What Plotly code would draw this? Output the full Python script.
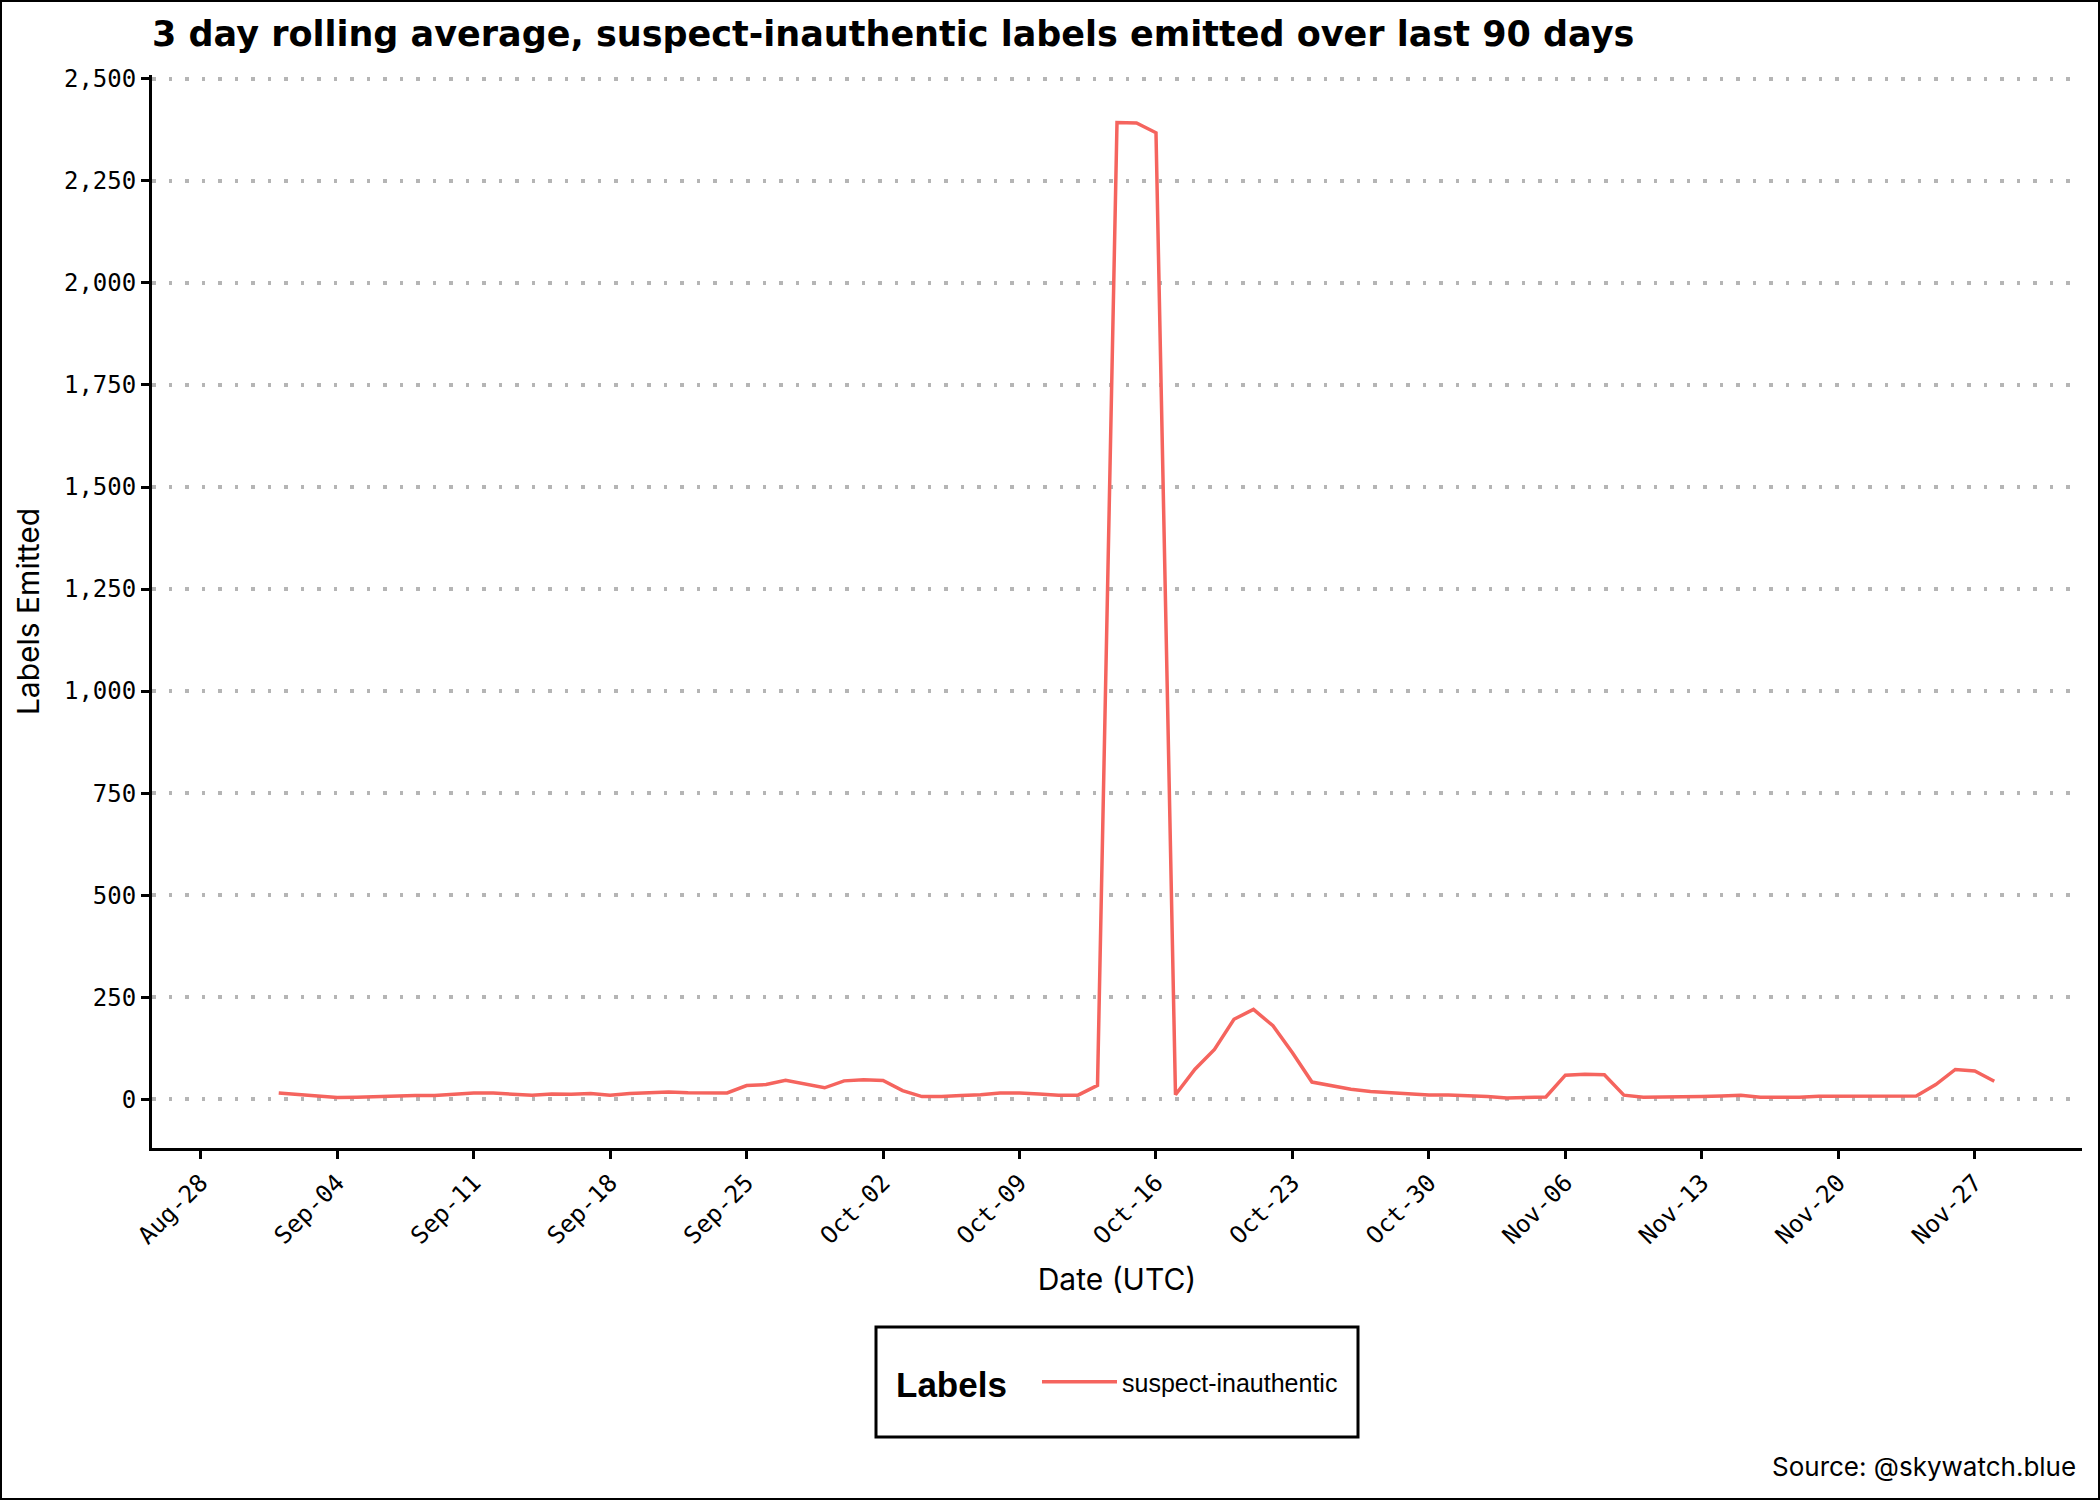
import plotly.graph_objects as go
import pandas as pd

# ---- data ----
start_date = "2024-08-30"
n_days = 91
dates = pd.date_range(start_date, periods=n_days, freq="D")
series_name = "suspect-inauthentic"
values_aug = [None, None]  # Aug 30, Aug 31 (rolling window not yet full)
values_sep = [15.5, 11, 7, 4, 5, 7, 9, 9, 9, 13, 15, 15, 13, 10, 13, 12, 14, 10, 14, 17,
              18, 16, 15.5, 15.5, 33.5, 36, 46.5, 37.5, 28, 45]
values_oct = [48, 46, 21, 6.5, 6.5, 9, 11, 15.5, 15.5, 13, 10, 10, 34, 2393, 2392, 2368,
              11, 73.5, 122, 196, 220, 180, 114, 42, 33, 24.5, 19, 15.5, 13, 10.6, 10.6]
values_nov = [9, 6.5, 3.3, 4, 5.7, 59, 61, 60, 10, 5, 5, 5.7, 6.5, 8, 10, 5, 4, 5, 7.4,
              7.4, 8, 6.5, 7.4, 8, 36, 73, 69, 44]
values = values_aug + values_sep + values_oct + values_nov

y_tickvals = [0, 250, 500, 750, 1000, 1250, 1500, 1750, 2000, 2250, 2500]
x_tick0 = "2024-08-28"

title_text = "3 day rolling average, suspect-inauthentic labels emitted over last 90 days"
caption_text = "Source: @skywatch.blue"
legend_title = "Labels"

# ---- layout geometry ----
W, H = 2100, 1500
ML, MR, MT, MB = 152, 18, 75, 352
PW, PH = W - ML - MR, H - MT - MB


def px_x(p):
    return (p - ML) / PW


def px_y(p):
    return (H - MB - p) / PH


line_color = "#F5645E"

fig = go.Figure()
fig.add_trace(go.Scatter(
    x=dates, y=values, mode="lines", name=series_name,
    line=dict(color=line_color, width=3.5),
    connectgaps=False,
))

tick_font = dict(family="DejaVu Sans Mono", size=24, color="black")
label_font = dict(family="Inter", size=30, color="black")

fig.update_layout(
    width=W, height=H,
    margin=dict(l=ML, r=MR, t=MT, b=MB),
    paper_bgcolor="white", plot_bgcolor="white",
    title=dict(text=f"<b>{title_text}</b>", font=dict(family="DejaVu Sans", size=35, color="black"),
               x=0, xref="paper", xanchor="left", y=1 - 34 / H, yref="container", yanchor="middle"),
    xaxis=dict(
        type="date",
        range=["2024-08-25 12:00", "2024-12-02 12:00"],
        tick0=x_tick0, dtick=7 * 24 * 3600 * 1000, tickformat="%b-%d",
        tickangle=-45, tickfont=tick_font,
        ticks="outside", ticklen=8, tickwidth=2.5, tickcolor="black",
        showline=True, linecolor="black", linewidth=3,
        showgrid=False, zeroline=False,
        title=dict(text="Date (UTC)", font=label_font, standoff=21),
    ),
    yaxis=dict(
        range=[-119.5, 2509.5],
        tickvals=y_tickvals, tickformat=",d", tickfont=tick_font,
        ticks="outside", ticklen=8, tickwidth=2.5, tickcolor="black",
        showline=True, linecolor="black", linewidth=3,
        showgrid=True, gridcolor="#b5b5b5", gridwidth=3.5, griddash="3.5px,13px",
        zeroline=False,
        title=dict(text="Labels Emitted", font=label_font, standoff=16),
    ),
    legend=dict(
        orientation="h", x=px_x(1037), xanchor="left",
        y=px_y(1382), yanchor="middle",
        itemwidth=75,
        font=dict(family="Liberation Sans", size=25, color="black"),
        bgcolor="rgba(0,0,0,0)", borderwidth=0,
    ),
    showlegend=True,
)

# legend frame
fig.add_shape(type="rect", xref="paper", yref="paper",
              x0=px_x(876), x1=px_x(1358), y0=px_y(1437), y1=px_y(1327),
              line=dict(color="black", width=3), fillcolor="rgba(0,0,0,0)", layer="above")
# legend title
fig.add_annotation(text=f"<b>{legend_title}</b>", xref="paper", yref="paper",
                   x=px_x(894), y=px_y(1384), xanchor="left", yanchor="middle",
                   showarrow=False, font=dict(family="Liberation Sans", size=35, color="black"))
# outer border
fig.add_shape(type="rect", xref="paper", yref="paper",
              x0=px_x(1), x1=px_x(W - 1), y0=px_y(H - 1), y1=px_y(1),
              line=dict(color="black", width=2), fillcolor="rgba(0,0,0,0)", layer="above")

fig.add_annotation(text=caption_text, xref="paper", yref="paper",
                   x=px_x(2078), y=px_y(1466), xanchor="right", yanchor="middle",
                   showarrow=False, font=dict(family="Inter", size=26, color="black"))

fig.write_html("out.html", config={"displayModeBar": False},
               post_script="document.body.style.margin='0';")
